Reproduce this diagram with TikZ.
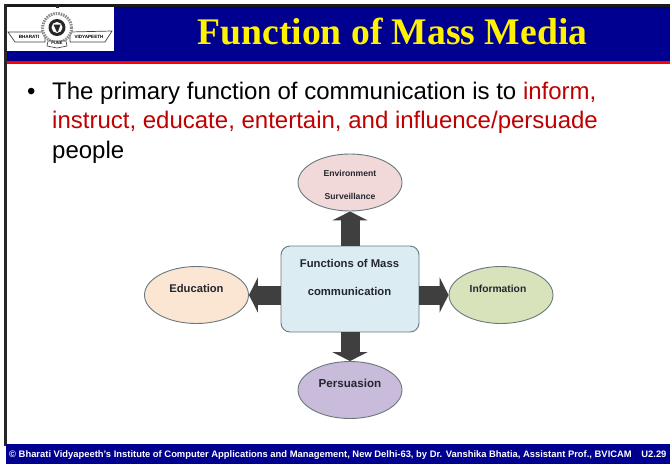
\documentclass[tikz,border=0pt]{standalone}
\usepackage{fontspec}
\setmainfont{Liberation Sans}
\newfontfamily\titlefont{Liberation Serif}
\usetikzlibrary{arrows.meta,shapes.geometric}
\definecolor{navy}{HTML}{000090}
\definecolor{redtxt}{HTML}{C00000}
\definecolor{edgegray}{HTML}{69787C}
\definecolor{fatgray}{HTML}{3F3F3F}
\definecolor{labeltxt}{HTML}{262630}
\definecolor{hubfill}{HTML}{DBEDF3}
\definecolor{pinkfill}{HTML}{F2D9D9}
\definecolor{orangefill}{HTML}{FBE5D3}
\definecolor{greenfill}{HTML}{D8E3BC}
\definecolor{purplefill}{HTML}{C9BBDA}
\tikzset{
  line/.style={font=\fontsize{24}{24}\selectfont, anchor=base west, inner sep=0pt},
  oval/.style={ellipse, draw=edgegray, line width=0.9pt, minimum width=104pt, minimum height=57pt, inner sep=0pt, align=center},
  hub/.style={draw=edgegray, line width=0.9pt, rounded corners=9pt, fill=hubfill, minimum width=138pt, minimum height=86pt, inner sep=0pt},
  fat/.style={draw=fatgray, line width=19pt, -{Triangle[length=9pt,width=35pt,fill=fatgray]}},
  boxlabel/.style={inner sep=0pt, text=labeltxt, font=\fontsize{11.3}{12}\selectfont\bfseries},
  smalllabel/.style={inner sep=0pt, text=labeltxt, font=\fontsize{8.6}{9}\selectfont\bfseries},
  sidelabel/.style={inner sep=0pt, text=labeltxt, font=\fontsize{11.2}{12}\selectfont\bfseries},
  logotxt/.style={inner sep=0pt, font=\fontsize{4.6}{5}\selectfont\bfseries, text=black}
}
\begin{document}
\begin{tikzpicture}[x=1pt,y=-1pt]
\useasboundingbox (0,0) rectangle (670,464);
\fill[white] (0,0) rectangle (670,464);
% header
\fill[navy] (6,6) rectangle (670,61);
\fill[red] (6,61) rectangle (670,64);
\fill[black!90] (4,4) rectangle (670,7);
\fill[black!85] (4,4) rectangle (7,446);
\fill[white] (7,7) rectangle (114,51);
% logo
\draw[line width=0.7pt, black!75, fill=white] (8,32) -- (45,32) -- (45,42) -- (15,42) -- cycle;
\draw[line width=0.7pt, black!75, fill=white] (112,31) -- (70,32) -- (70,42) -- (105,42) -- cycle;
\node[logotxt] (lb) at (29,36.5) {BHARATI};
\node[logotxt] (lv) at (89,36.5) {VIDYAPEETH};
\draw[line width=3pt, black!45, fill=white, dash pattern=on 1.5pt off 1pt] (57,28) circle (14.5pt);
\fill[black!85] (57,27.5) circle (8.5pt);
\fill[white] (57,27.5) circle (5.5pt);
\fill[black!85] (53.5,24.5) -- (60.5,24.5) -- (58,31.5) -- (57,32) -- (55.5,29) -- cycle;
\draw[line width=0.6pt, black!75, fill=white] (48,41) -- (66,41) -- (67,46) -- (57,48) -- (47,46) -- cycle;
\node[logotxt, font=\fontsize{4}{5}\selectfont\bfseries] (lp) at (57,43.5) {PUNE};
\fill[black!85] (55.5,4) rectangle (58.5,8);
% title
\node[inner sep=0pt, text=yellow, font=\titlefont\fontsize{37.6}{38}\selectfont\bfseries] (title) at (392.5,31) {Function of Mass Media};
% bullets
\node[line] (b) at (27,99) {•};
\node[line] (l1) at (52,99) {The primary function of communication is to \textcolor{redtxt}{inform,}};
\node[line, text=redtxt] (l2) at (52,128.5) {instruct, educate, entertain, and influence/persuade};
\node[line] (l3) at (52,158) {people};
% diagram
\node[hub] (hub) at (350,289) {};
\node[boxlabel] (h1) at (349.5,263.5) {Functions of Mass};
\node[boxlabel] (h2) at (349.5,291) {communication};
\node[oval, fill=pinkfill] (env) at (350,182.5) {};
\node[smalllabel] (e1) at (350,173.5) {Environment};
\node[smalllabel] (e2) at (350,196.5) {Surveillance};
\node[oval, fill=orangefill] (edu) at (196.5,295) {};
\node[sidelabel] (ed) at (196.5,288.5) {Education};
\node[oval, fill=greenfill] (inf) at (501,295) {};
\node[sidelabel, font=\fontsize{10.3}{12}\selectfont\bfseries] (in) at (498,288.5) {Information};
\node[oval, fill=purplefill] (per) at (350,390) {};
\node[sidelabel, font=\fontsize{11.6}{12}\selectfont\bfseries] (p1) at (350,383) {Persuasion};
\draw[fat] (hub.north) -- (env.south);
\draw[fat] (hub.south) -- (per.north);
\draw[fat] (hub.west |- edu.east) -- (edu.east);
\draw[fat] (hub.east |- inf.west) -- (inf.west);
% footer
\fill[navy] (6,444) rectangle (670,464);
\node[inner sep=0pt, anchor=west, text=white, font=\fontsize{9.4}{10}\selectfont\bfseries] (foot) at (9,455) {© Bharati Vidyapeeth's Institute of Computer Applications and Management, New Delhi-63, by Dr. Vanshika Bhatia, Assistant Prof., BVICAM\hspace{7pt} U2.29};
\end{tikzpicture}
\end{document}
